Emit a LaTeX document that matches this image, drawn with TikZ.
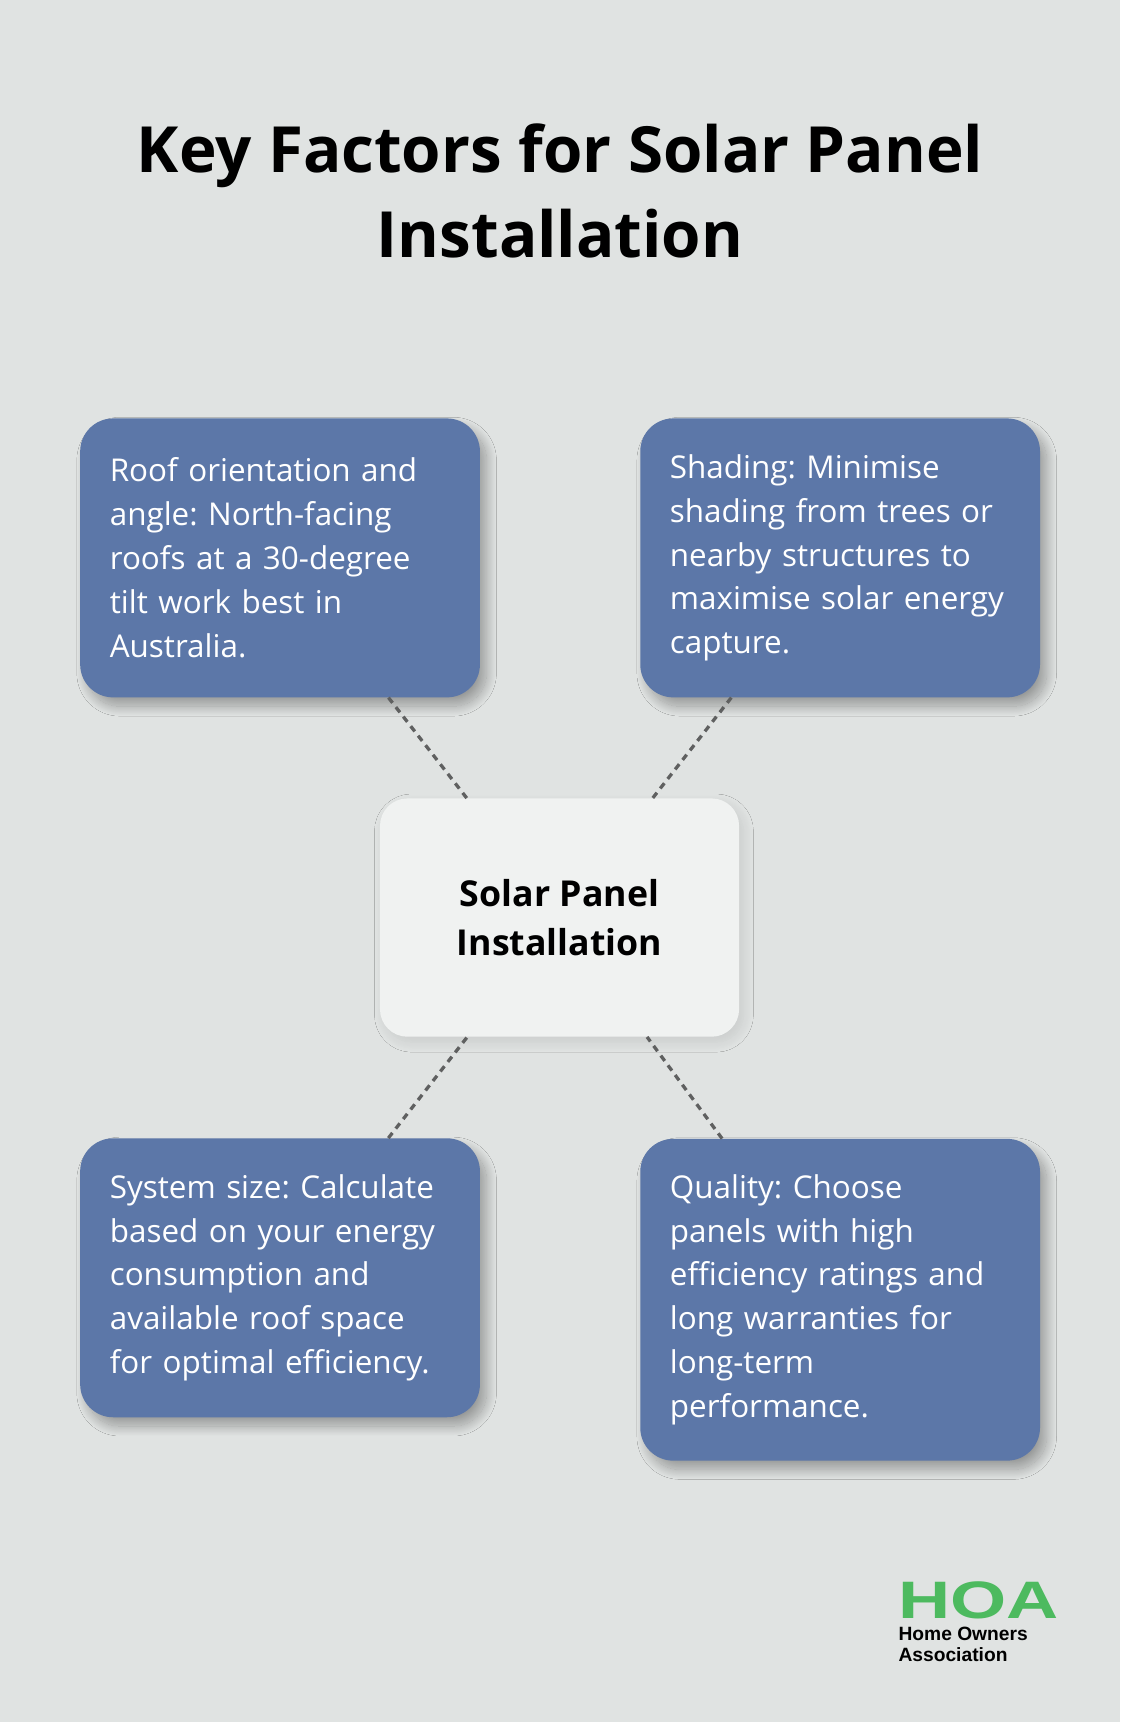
\documentclass[tikz,border=0pt]{standalone}
\usepackage{fontspec}
\setmainfont{Open Sans}
\newfontfamily\logofont{Liberation Sans}
\usetikzlibrary{shadows.blur}
\definecolor{bgGray}{HTML}{E0E3E2}
\definecolor{boxBlue}{HTML}{5C77A8}
\definecolor{hubWhite}{HTML}{F0F2F1}
\definecolor{dashGray}{HTML}{5F6060}
\definecolor{hoaGreen}{HTML}{4DBA5F}
\tikzset{
  factor/.style={fill=boxBlue, rounded corners=30pt, text=white,
    minimum width=364pt, minimum height=254pt, text width=310pt,
    inner xsep=27pt, align=left, font=\frenchspacing\fontsize{28.6}{40}\selectfont,
    blur shadow={shadow xshift=6pt, shadow yshift=-8pt,
      shadow blur radius=9pt, shadow blur steps=24, shadow opacity=32}},
  hub/.style={fill=hubWhite, rounded corners=25pt,
    minimum width=327pt, minimum height=217pt, align=center,
    font=\bfseries\fontsize{32.5}{44}\selectfont,
    blur shadow={shadow xshift=4pt, shadow yshift=-5pt,
      shadow blur radius=9pt, shadow blur steps=24, shadow opacity=10}},
  link/.style={draw=dashGray, line width=3pt, dash pattern=on 6pt off 5pt},
  logoline/.style={anchor=base west, inner sep=0, text height=12.8pt, text depth=0pt,
    font=\logofont\bfseries\fontsize{17.5}{18}\selectfont}
}
\begin{document}
\begin{tikzpicture}[x=1pt,y=1pt]
\fill[bgGray] (0,0) rectangle (1020,-1568);
\node [align=center, font=\bfseries\fontsize{58}{78}\selectfont] (title) at (510,-174) {Key Factors for Solar Panel\\Installation};
\node [hub] (hub) at (509.5,-835.5) {Solar Panel\\Installation};
\node [factor] (roof) at (255,-508) {Roof orientation and\\angle: North-facing\\roofs at a 30-degree\\tilt work best in\\Australia.};
\node [factor] (shade) at (765,-508) {Shading: Minimise\\shading from trees or\\nearby structures to\\maximise solar energy\\capture.};
\node [factor] (size) at (255,-1163.5) {System size: Calculate\\based on your energy\\consumption and\\available roof space\\for optimal efficiency.};
\node [factor, minimum height=293pt] (quality) at (765,-1183.5) {Quality: Choose\\panels with high\\efficiency ratings and\\long warranties for\\long-term\\performance.};
% dotted links
\draw [link] (roof) -- (hub);
\draw [link] (shade) -- (hub);
\draw [link] (size) -- (hub);
\draw [link] (quality) -- (hub);
% logo
\node [anchor=base west, inner sep=0, text depth=0pt, text=hoaGreen, font=\logofont\bfseries\fontsize{48}{48}\selectfont] (hoa) at (818,-1474) {\scalebox{1.37}[1]{HOA}};
\node [logoline] (owners) at (818,-1493.6) {Home Owners};
\node [logoline] (assoc) at (818,-1513) {Association};
\end{tikzpicture}
\end{document}
